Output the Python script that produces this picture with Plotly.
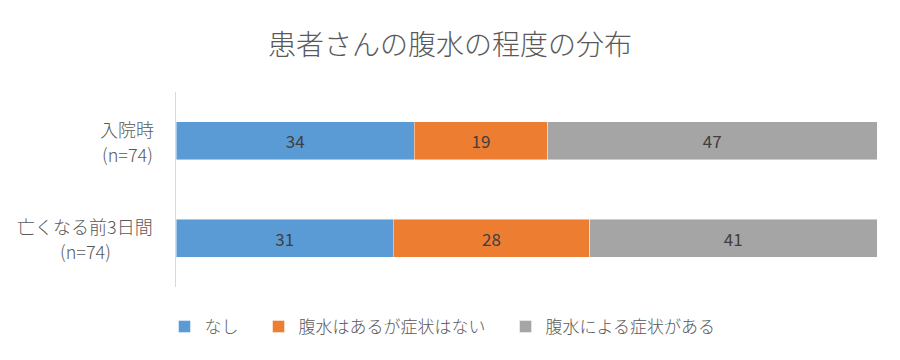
import plotly.graph_objects as go

categories = ["入院時", "亡くなる前3日間"]
sample_sizes = ["(n=74)", "(n=74)"]
series_names = ["なし", "腹水はあるが症状はない", "腹水による症状がある"]
values_none = [34, 31]
values_no_symptom = [19, 28]
values_symptom = [47, 41]
colors = ["#5B9BD5", "#ED7D31", "#A5A5A5"]

FONT = "Noto Sans CJK JP"
PAD = "&nbsp;" * 4
fig = go.Figure()
for name, vals, col in zip(series_names, [values_none, values_no_symptom, values_symptom], colors):
    fig.add_trace(go.Bar(
        y=categories, x=vals, name=name + PAD, orientation="h",
        marker=dict(color=col, line=dict(color="rgba(255,255,255,0.6)", width=0.75)),
        width=0.39,
        text=[str(v) for v in vals], textposition="inside", insidetextanchor="middle",
        textfont=dict(color="#404040", size=17, family=FONT),
        hoverinfo="skip",
    ))

for cat, n in zip(categories, sample_sizes):
    # two lines, centred on each other, to the left of the axis
    for txt, shift in ((cat, 12), (n, -13)):
        fig.add_annotation(
            xref="paper", x=0, yref="y", y=cat, xanchor="center", yanchor="middle",
            xshift=-91 if cat != categories[0] else -49, yshift=shift, align="center",
            showarrow=False,
            text=txt, font=dict(size=18, color="#595959", family=FONT, weight=300),
        )

fig.update_layout(
    width=900, height=360, barmode="stack",
    margin=dict(l=176, r=23, t=92, b=73, autoexpand=False),
    paper_bgcolor="white", plot_bgcolor="white",
    font=dict(family=FONT, color="#595959"),
    title=dict(text="患者さんの腹水の程度の分布", x=0.5, xref="container", xanchor="center",
               y=1 - 45 / 360, yref="container", yanchor="middle",
               font=dict(size=28, color="#595959", family=FONT, weight=300)),
    xaxis=dict(range=[0, 100], visible=False),
    yaxis=dict(range=[1.5, -0.5], showline=True, linecolor="#D9D9D9", linewidth=1,
               showticklabels=False, showgrid=False, zeroline=False, ticks=""),
    legend=dict(orientation="h", x=0.5, xref="container", xanchor="center",
                y=1 - 327 / 360, yref="container", yanchor="middle",
                font=dict(size=17, color="#595959", family=FONT, weight=300),
                itemwidth=30, traceorder="normal"),
    showlegend=True,
)

fig.write_html("out.html", post_script="document.body.style.margin='0';",
               config={"displayModeBar": False})
